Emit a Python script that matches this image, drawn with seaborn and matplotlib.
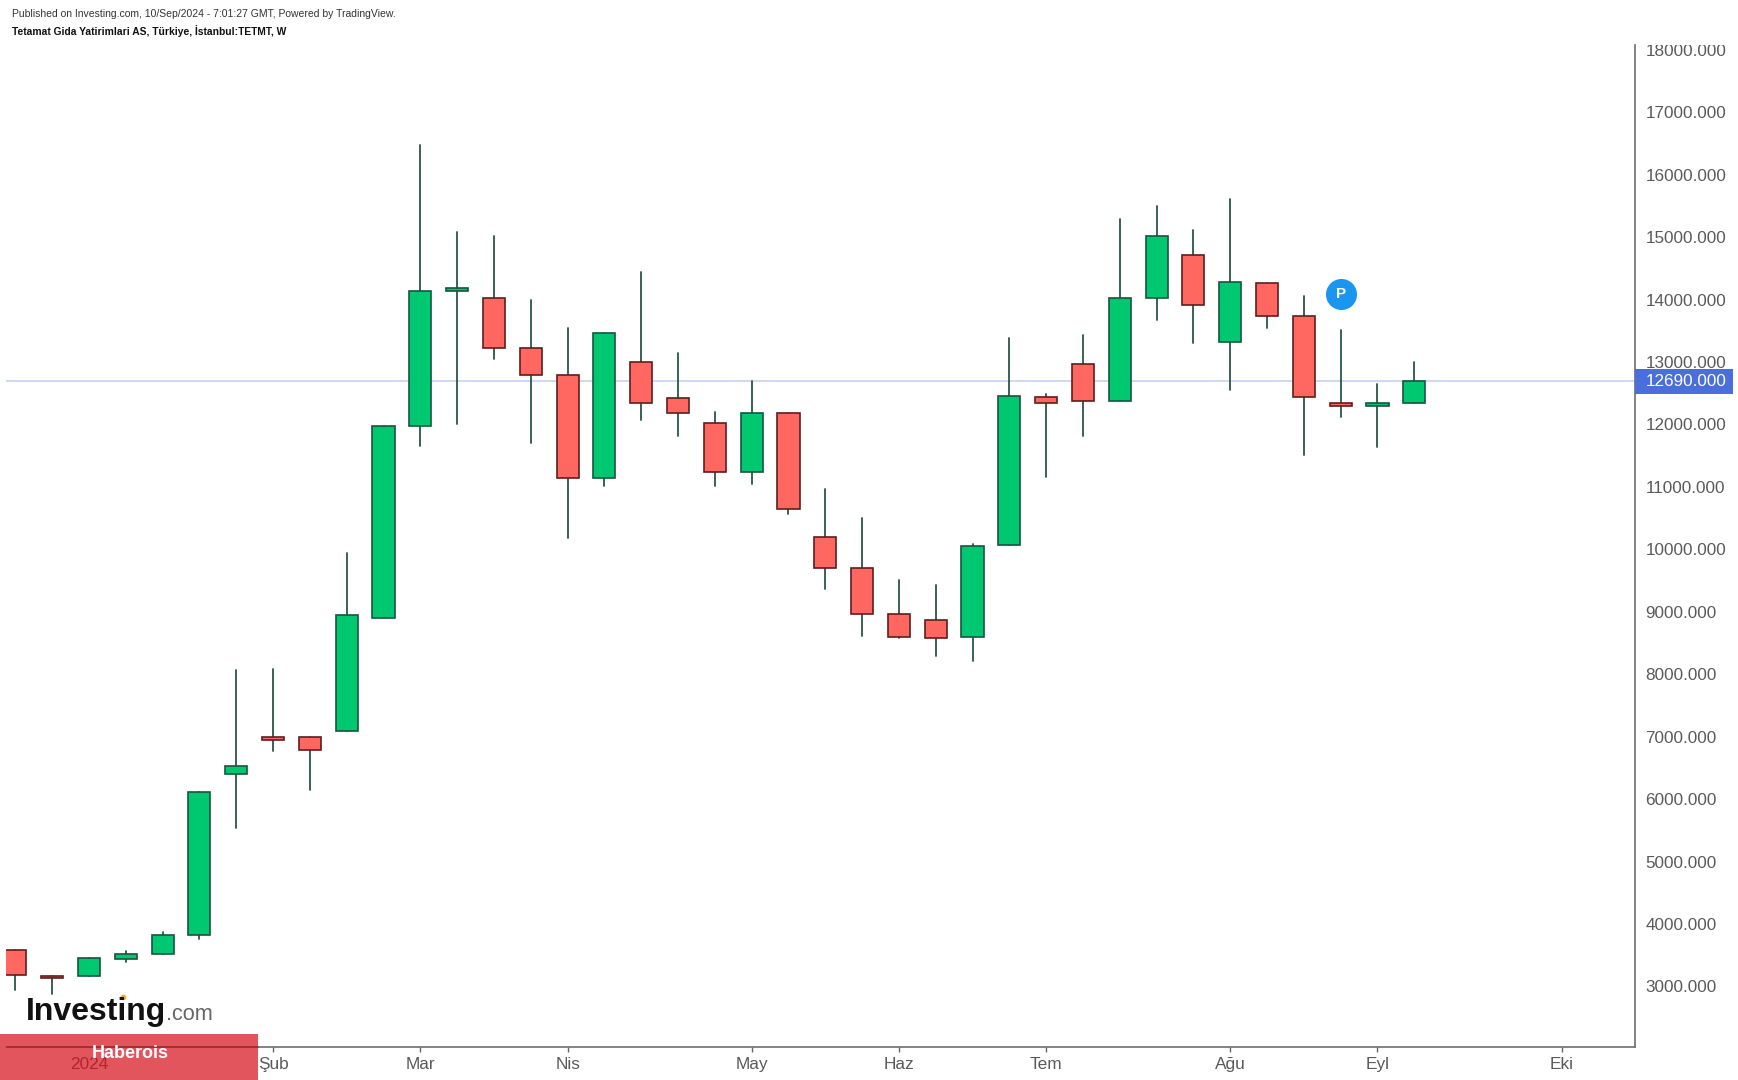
"""Weekly TETMT candlestick chart drawn with seaborn."""

import matplotlib
matplotlib.use("Agg")
import matplotlib.pyplot as plt
import pandas as pd
import seaborn as sns
from matplotlib.lines import Line2D
from matplotlib.patches import Rectangle
from matplotlib.transforms import Bbox

opens = [3586, 3170, 3160, 3444, 3515, 3817, 6394, 7000, 7000, 7087,
         8900, 11974, 14142, 14018, 13218, 12791, 11139, 13005, 12418, 12027,
         11245, 12187, 10197, 9699, 8971, 8864, 8598, 10072, 12436, 12969,
         12383, 14018, 14711, 13324, 14266, 13733, 12347, 12294, 12347]
closes = [3178, 3140, 3462, 3515, 3817, 6110, 6536, 6945, 6785, 8953,
          11974, 14142, 14178, 13218, 12791, 11139, 13467, 12347, 12187, 11245,
          12187, 10641, 9699, 8971, 8598, 8580, 10055, 12454, 12347, 12383,
          14018, 15012, 13911, 14284, 13733, 12436, 12294, 12347, 12690]
highs = [3586, 3170, 3462, 3570, 3870, 6110, 8064, 8082, 7000, 9948,
         11974, 16470, 15084, 15012, 14000, 13538, 13467, 14444, 13147, 12205,
         12702, 12187, 10961, 10499, 9504, 9433, 10090, 13378, 12490, 13430,
         15297, 15493, 15119, 15617, 14266, 14053, 13520, 12650, 13005]
lows = [2947, 2875, 3160, 3390, 3515, 3764, 5541, 6767, 6145, 7087,
        8900, 11654, 12010, 13040, 11707, 10179, 11014, 12063, 11814, 11014,
        11050, 10570, 9362, 8615, 8580, 8295, 8207, 10072, 11156, 11814,
        12383, 13680, 13307, 12544, 13538, 11512, 12116, 11636, 12347]

month_positions = [2, 7, 11, 15, 20, 24, 28, 33, 37, 42]
month_labels = ["2024", "Şub", "Mar", "Nis", "May", "Haz", "Tem", "Ağu", "Eyl", "Eki"]
price_ticks = list(range(3000, 19000, 1000))
last_price = 12690

WIDTH, HEIGHT = 1738, 1080
GREEN, RED = "#00c871", "#ff6760"
GREEN_EDGE, RED_EDGE = "#17553f", "#5c1f1f"
WICK = "#2a5547"
TEXT = "#5a5a5a"

sns.set_theme(style="white")
plt.rcParams["font.family"] = ["Liberation Sans", "DejaVu Sans"]

df = pd.DataFrame({"week": range(len(opens)), "open": opens, "close": closes,
                   "high": highs, "low": lows})
df["bottom"] = df[["open", "close"]].min(axis=1)
df["body"] = (df["close"] - df["open"]).abs()

wicks = df.melt(id_vars="week", value_vars=["low", "high"], value_name="price")

fig = plt.figure(figsize=(WIDTH / 100, HEIGHT / 100), dpi=100, facecolor="white")
ax = fig.add_axes([6 / WIDTH, 33 / HEIGHT, 1629 / WIDTH, 1002 / HEIGHT])
ax.patch.set_alpha(0)

ax.axhline(last_price, color="#ccd5f0", lw=1.3, zorder=1)

sns.lineplot(data=wicks, x="week", y="price", units="week", estimator=None, sort=False,
             color=WICK, lw=1.3, ax=ax, zorder=2, legend=False)

for rising, fill, edge in [(True, GREEN, GREEN_EDGE), (False, RED, RED_EDGE)]:
    part = df[(df["close"] >= df["open"]) == rising]
    sns.barplot(data=part, x="week", y="body", bottom=part["bottom"].to_numpy(),
                native_scale=True, width=0.6, gap=0, errorbar=None, color=fill,
                saturation=1, edgecolor=edge, linewidth=1.2, ax=ax, zorder=3)

# trade marker above the week of the publication
ax.scatter([36], [14090], s=500, color="#1a96f0", linewidths=0, zorder=4)
ax.text(36, 14090, "P", color="white", fontsize=11, fontweight="bold",
        ha="center", va="center", zorder=5)

ax.set_xlim(-0.255, 43.995)
ax.set_ylim(2030, 18076)
ax.set_xlabel("")
ax.set_ylabel("")
ax.yaxis.tick_right()
ax.set_yticks(price_ticks, [f"{p}.000" for p in price_ticks])
ax.set_xticks(month_positions, month_labels)
ax.tick_params(axis="y", right=True, length=4.5, width=1, color="#666666",
               labelsize=12.3, labelcolor=TEXT, pad=3)
ax.tick_params(axis="x", bottom=True, length=3.5, width=1, color="#666666",
               labelsize=12.4, labelcolor=TEXT, pad=4)
sns.despine(ax=ax, left=True, top=True, right=False, bottom=False)
for name in ["right", "bottom"]:
    ax.spines[name].set_color("#6e6e6e")
    ax.spines[name].set_linewidth(1.2)
ax.spines["right"].set_zorder(6)

# the top label is cut by the edge of the price scale
top_clip = Bbox([[0, 0], [WIDTH, HEIGHT - 45]])
for label in ax.get_yticklabels():
    label.set_clip_on(True)
    label.set_clip_box(top_clip)

ax.get_xticklabels()[0].set_color("#b3242f")
ax.xaxis.get_major_ticks()[0].tick1line.set_visible(False)


def fx(x):
    return x / WIDTH


def fy(y):
    return 1 - y / HEIGHT


# current price tag
fig.add_artist(Rectangle((fx(1635), fy(394)), 98 / WIDTH, 25 / HEIGHT, color="#4a6fdc",
                         lw=0, zorder=7))
fig.text(fx(1646), fy(381.5), f"{last_price}.000", color="white", fontsize=12.3,
         ha="left", va="center", zorder=8)

# header
fig.text(fx(12), fy(14), "Published on Investing.com, 10/Sep/2024 - 7:01:27 GMT, Powered by TradingView.",
         fontsize=7.5, color="#333333", va="center")
fig.text(fx(12), fy(31), "Tetamat Gida Yatirimlari AS, Türkiye, İstanbul:TETMT, W",
         fontsize=7.35, color="#111111", fontweight="bold", va="center")

# watermark and banner
fig.add_artist(Rectangle((0, 0), 258 / WIDTH, 46 / HEIGHT, color="#e2555c", lw=0, zorder=-1))
fig.add_artist(Line2D([fx(7), fx(258)], [fy(1047), fy(1047)], color="#a9252b", lw=1.2, zorder=3))
fig.text(fx(130), fy(1053), "Haberois", color="white", fontsize=13, fontweight="bold",
         ha="center", va="center", zorder=8)
fig.text(fx(26), fy(1020), "Investing", color="#111111", fontsize=23, fontweight="bold",
         va="baseline", zorder=8)
fig.text(fx(166), fy(1020), ".com", color="#666666", fontsize=15.6, va="baseline", zorder=8)
fig.add_artist(Line2D([fx(123)], [fy(997)], marker="o", ms=3, color="#f5a623", lw=0, zorder=8))

fig.savefig("out.png", dpi=100)
plt.close(fig)
